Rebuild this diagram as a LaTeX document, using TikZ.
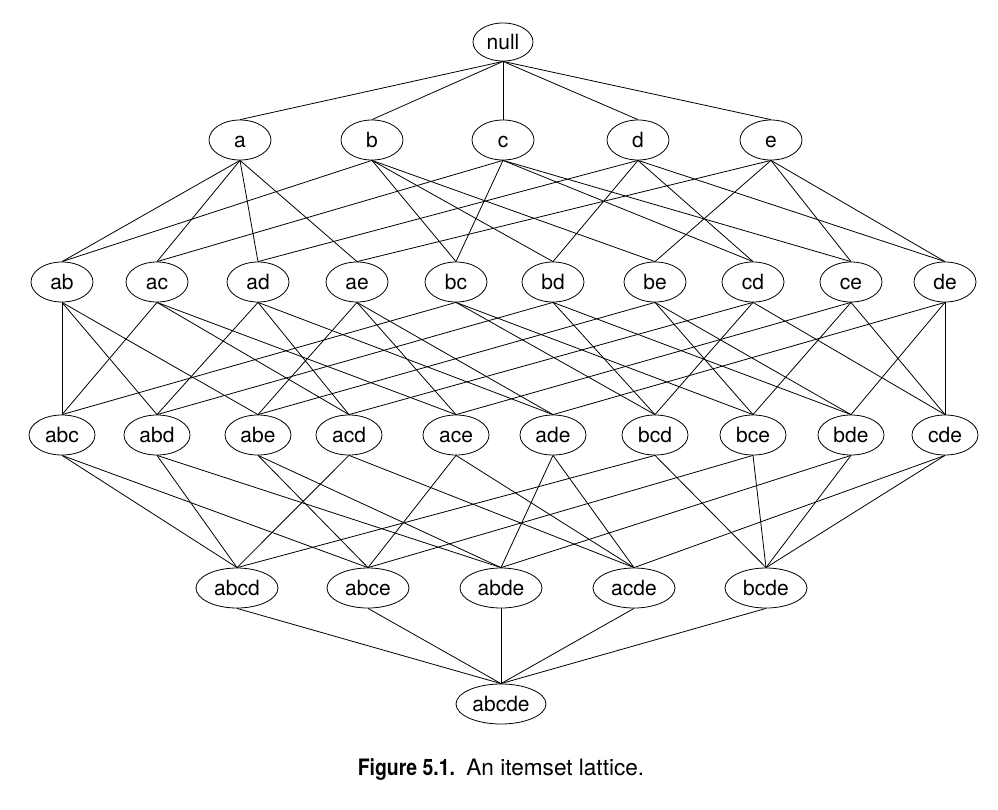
\documentclass[tikz,border=0pt]{standalone}
\usepackage{fontspec}
\setmainfont{TeX Gyre Heros}
\newfontfamily\capfont[FakeStretch=0.86]{TeX Gyre Heros}
\usepackage{tikz}
\usetikzlibrary{shapes.geometric}

\begin{document}
\begin{tikzpicture}[
    x=0.5pt, y=-0.5pt,
    item/.style={ellipse, draw, thin, inner sep=0pt, minimum height=20pt,
                 text height=7.6pt, text depth=0.2pt, font=\fontsize{10.5}{12}\selectfont},
    one/.style={item, minimum width=31pt},
    two/.style={item, minimum width=31pt},
    three/.style={item, minimum width=33pt},
    four/.style={item, minimum width=41pt},
    five/.style={item, minimum width=45pt},
    link/.style={thin}
]
    \useasboundingbox (0,0) rectangle (998,810);

    % Level 0
    \node[item, minimum width=30pt, minimum height=19pt] (null) at (503,42) {null};

    % Level 1
    \foreach \n/\x in {a/240, b/372, c/503, d/638, e/771}
        \node[one] (\n) at (\x,140) {\n};

    % Level 2
    \foreach \n/\x in {ab/62, ac/157, ad/258, ae/357, bc/456, bd/553, be/655, cd/753, ce/851, de/945}
        \node[two] (\n) at (\x,282) {\n};

    % Level 3
    \foreach \n/\x in {abc/62, abd/157, abe/258, acd/349, ace/456, ade/553, bcd/655, bce/753, bde/851, cde/945}
        \node[three] (\n) at (\x,435) {\n};

    % Level 4
    \foreach \n/\x in {abcd/237, abce/368, abde/501, acde/634, bcde/766}
        \node[four] (\n) at (\x,588) {\n};

    % Level 5
    \node[five] (abcde) at (501,704) {abcde};

    % Subset links
    \foreach \p/\cs in {null/{a,b,c,d,e},
                        a/{ab,ac,ad,ae}, b/{ab,bc,bd,be}, c/{ac,bc,cd,ce},
                        d/{ad,bd,cd,de}, e/{ae,be,ce,de},
                        ab/{abc,abd,abe}, ac/{abc,acd,ace}, ad/{abd,acd,ade},
                        ae/{abe,ace,ade}, bc/{abc,bcd,bce}, bd/{abd,bcd,bde},
                        be/{abe,bce,bde}, cd/{acd,bcd,cde}, ce/{ace,bce,cde},
                        de/{ade,bde,cde},
                        abc/{abcd,abce}, abd/{abcd,abde}, abe/{abce,abde},
                        acd/{abcd,acde}, ace/{abce,acde}, ade/{abde,acde},
                        bcd/{abcd,bcde}, bce/{abce,bcde}, bde/{abde,bcde},
                        cde/{acde,bcde},
                        abcd/{abcde}, abce/{abcde}, abde/{abcde}, acde/{abcde}, bcde/{abcde}}
        \foreach \c in \cs
            \draw[link] (\p.south) -- (\c.north);

    % Caption
    \node[font=\fontsize{11.3}{13}\selectfont] (caption) at (501,770)
        {{\capfont\bfseries Figure 5.1.}\enspace An itemset lattice.};
\end{tikzpicture}
\end{document}
